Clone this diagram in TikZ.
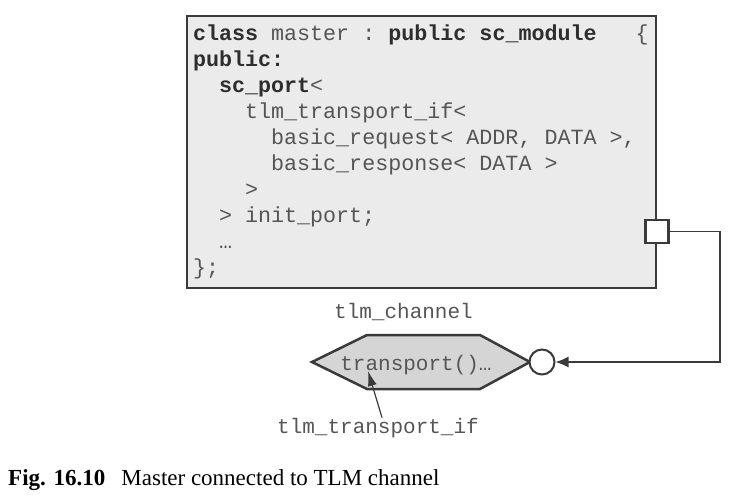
\documentclass[tikz,border=0pt]{standalone}
\usepackage{fontspec}
\setmainfont{Liberation Serif}
\setmonofont{Liberation Mono}[WordSpace={1,0,0}]
\usetikzlibrary{arrows.meta}
\definecolor{boxgray}{HTML}{EBEBEB}
\definecolor{hexgray}{HTML}{D5D5D5}
\definecolor{linegray}{HTML}{3A3A3A}
\definecolor{codegray}{HTML}{555555}
\definecolor{kwgray}{HTML}{2E2E2E}
\newcommand{\kw}[1]{{\bfseries\color{kwgray}#1}}
\newcommand{\ind}[1]{\hspace*{#1em}}
\newcommand{\ws}{\hspace{0.6em}}
\tikzset{
every label/.style={font=\ttfamily\fontsize{21}{25}\selectfont, text=codegray},
}

\begin{document}
\begin{tikzpicture}[x=1pt, y=-1pt,
						codebox/.style={draw=linegray, line width=2pt, fill=boxgray, text=codegray, align=left,
							font=\ttfamily\fontsize{21.7}{26}\selectfont},
						portbox/.style={draw=linegray, line width=2.5pt, fill=white, minimum size=23pt, inner sep=0pt},
						ifcircle/.style={draw=linegray, line width=2pt, fill=white, circle, minimum size=25pt, inner sep=0pt},
						hexa/.style={draw=linegray, line width=2.5pt, fill=hexgray, line join=miter},
						wire/.style={draw=linegray, line width=1.3pt},
						lbl/.style={font=\ttfamily\fontsize{21}{25}\selectfont, text=codegray, anchor=base, inner sep=0pt},
					]
					\useasboundingbox (0,0) rectangle (738,495);
					\node[codebox, anchor=north west, minimum width=469pt, minimum height=272pt,
						text width=457pt, inner xsep=6pt] (master) at (186,15) {%
						\kw{class}\ws master\ws:\ws\kw{public}\ws\kw{sc\_module}\hspace{1.8em}\{\\
						\kw{public:}\\
						\ind{1.2}\kw{sc\_port}<\\
						\ind{2.4}tlm\_transport\_if<\\
						\ind{3.6}basic\_request<\ws ADDR,\ws DATA\ws>,\\
						\ind{3.6}basic\_response<\ws DATA\ws>\\
						\ind{2.4}>\\
						\ind{1.2}>\ws init\_port;\\
						\ind{1.2}…\\
						\};};
					\node[portbox] (port) at (master.east |- 0,231.5) {};
					\draw[hexa] (312,362) -- (367,335) -- (480,335) -- (530,362) -- (480,389) -- (367,389) -- cycle;
					\node[ifcircle] (iface) at (542,362) {};
					\coordinate (bend) at (720,362);
					\draw[wire, -{Latex[length=13pt, width=11pt]}] (port.east) -| (bend) -- (iface.east);
					\node[lbl] (chanlabel) at (403.5,318) {tlm\_channel};
					\node[lbl] (chan) at (416,370) {transport()…};
					\node[lbl] (iflabel) at (378,433) {tlm\_transport\_if};
					\coordinate (ifpt) at (368,371);
					\draw[wire, line width=1.2pt, -{Latex[length=15pt, width=9pt]}] ([xshift=4pt]iflabel.north) -- (ifpt);
					\node[anchor=base west, inner sep=0pt, font=\fontsize{23}{27}\selectfont] (caption) at (8,485)
						{\textbf{Fig. 16.10}\hspace{0.7em}Master connected to TLM channel};
	\end{tikzpicture}
\end{document}
